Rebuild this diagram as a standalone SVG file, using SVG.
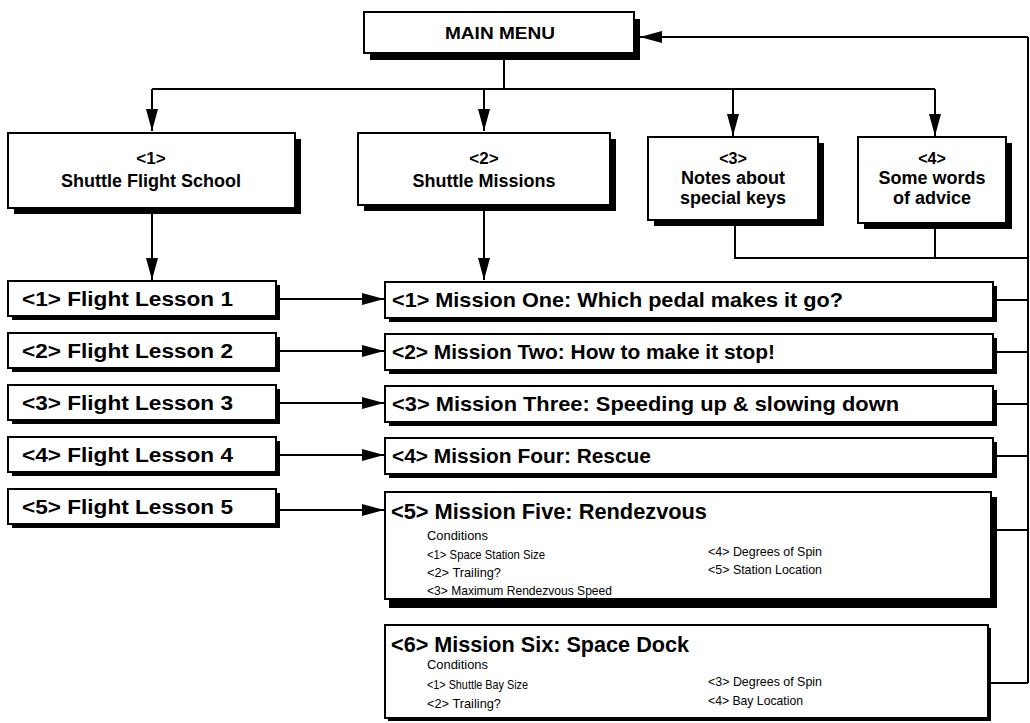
<svg xmlns="http://www.w3.org/2000/svg" width="1030" height="723" viewBox="0 0 1030 723">
<defs>
<marker id="ah" markerUnits="userSpaceOnUse" markerWidth="22" markerHeight="12" refX="22" refY="6" orient="auto">
<path d="M0,0 L22,6 L0,12 Z" fill="#000"/>
</marker>
<style>
.box{fill:#fff;stroke:#000;stroke-width:2}
.sh{fill:#000}
.ln{fill:none;stroke:#000;stroke-width:2}
.t{font-family:"Liberation Sans",Arial,sans-serif;font-weight:bold;fill:#000}
.c{font-family:"Liberation Sans Narrow","Liberation Sans",Arial,sans-serif;font-size:13.5px;fill:#000}
.mid{text-anchor:middle}
</style>
</defs>
<rect width="1030" height="723" fill="#fff"/>

<g id="connectors">
<line class="ln" x1="1028" y1="37" x2="640" y2="37" marker-end="url(#ah)"/>
<polyline class="ln" points="504,60 504,89"/>
<line class="ln" x1="152" y1="89" x2="935" y2="89"/>
<line class="ln" x1="152" y1="89" x2="152" y2="131" marker-end="url(#ah)"/>
<line class="ln" x1="484" y1="89" x2="484" y2="131" marker-end="url(#ah)"/>
<line class="ln" x1="733" y1="89" x2="733" y2="136" marker-end="url(#ah)"/>
<line class="ln" x1="935" y1="89" x2="935" y2="136" marker-end="url(#ah)"/>
<polyline class="ln" points="735,226 735,258 1028,258"/>
<line class="ln" x1="935" y1="229" x2="935" y2="258"/>
<line class="ln" x1="1028" y1="37" x2="1028" y2="683"/>
<line class="ln" x1="152" y1="214" x2="152" y2="280" marker-end="url(#ah)"/>
<line class="ln" x1="484" y1="211" x2="484" y2="280" marker-end="url(#ah)"/>
<line class="ln" x1="277" y1="299" x2="384" y2="299" marker-end="url(#ah)"/>
<line class="ln" x1="277" y1="351" x2="384" y2="351" marker-end="url(#ah)"/>
<line class="ln" x1="277" y1="403" x2="384" y2="403" marker-end="url(#ah)"/>
<line class="ln" x1="277" y1="455" x2="384" y2="455" marker-end="url(#ah)"/>
<line class="ln" x1="277" y1="510" x2="384" y2="510" marker-end="url(#ah)"/>
<line class="ln" x1="997" y1="300" x2="1028" y2="300"/>
<line class="ln" x1="997" y1="352" x2="1028" y2="352"/>
<line class="ln" x1="997" y1="404" x2="1028" y2="404"/>
<line class="ln" x1="997" y1="456" x2="1028" y2="456"/>
<line class="ln" x1="997" y1="530" x2="1028" y2="530"/>
<line class="ln" x1="991" y1="683" x2="1028" y2="683"/>
</g>

<g id="main-menu">
<rect class="sh" x="370" y="19" width="270" height="41"/>
<rect class="box" x="364" y="12" width="270" height="41"/>
<text class="t mid" x="500" y="39" font-size="17" textLength="110" lengthAdjust="spacingAndGlyphs">MAIN MENU</text>
</g>

<g id="flight-school">
<rect class="sh" x="14" y="139" width="287" height="75"/>
<rect class="box" x="8" y="133" width="287" height="75"/>
<text class="t mid" x="151" y="164" font-size="17">&lt;1&gt;</text>
<text class="t mid" x="151" y="187" font-size="18">Shuttle Flight School</text>
</g>

<g id="shuttle-missions">
<rect class="sh" x="364" y="139" width="252" height="72"/>
<rect class="box" x="358" y="133" width="252" height="72"/>
<text class="t mid" x="484" y="164" font-size="17">&lt;2&gt;</text>
<text class="t mid" x="484" y="187" font-size="18">Shuttle Missions</text>
</g>

<g id="notes-keys">
<rect class="sh" x="654" y="143" width="170" height="83"/>
<rect class="box" x="648" y="137" width="170" height="83"/>
<text class="t mid" x="733" y="164" font-size="16">&lt;3&gt;</text>
<text class="t mid" x="733" y="184" font-size="18">Notes about</text>
<text class="t mid" x="733" y="204" font-size="18">special keys</text>
</g>

<g id="words-advice">
<rect class="sh" x="864" y="143" width="148" height="86"/>
<rect class="box" x="858" y="137" width="148" height="86"/>
<text class="t mid" x="932" y="164" font-size="16">&lt;4&gt;</text>
<text class="t mid" x="932" y="184" font-size="18">Some words</text>
<text class="t mid" x="932" y="204" font-size="18">of advice</text>
</g>

<g id="lesson-1">
<rect class="sh" x="12" y="285" width="268" height="35"/>
<rect class="box" x="8" y="281" width="268" height="35"/>
<text class="t" x="22" y="306" font-size="20" textLength="211" lengthAdjust="spacingAndGlyphs">&lt;1&gt; Flight Lesson 1</text>
</g>
<g id="lesson-2">
<rect class="sh" x="12" y="337" width="268" height="35"/>
<rect class="box" x="8" y="333" width="268" height="35"/>
<text class="t" x="22" y="358" font-size="20" textLength="211" lengthAdjust="spacingAndGlyphs">&lt;2&gt; Flight Lesson 2</text>
</g>
<g id="lesson-3">
<rect class="sh" x="12" y="389" width="268" height="35"/>
<rect class="box" x="8" y="385" width="268" height="35"/>
<text class="t" x="22" y="410" font-size="20" textLength="211" lengthAdjust="spacingAndGlyphs">&lt;3&gt; Flight Lesson 3</text>
</g>
<g id="lesson-4">
<rect class="sh" x="12" y="441" width="268" height="35"/>
<rect class="box" x="8" y="437" width="268" height="35"/>
<text class="t" x="22" y="462" font-size="20" textLength="211" lengthAdjust="spacingAndGlyphs">&lt;4&gt; Flight Lesson 4</text>
</g>
<g id="lesson-5">
<rect class="sh" x="12" y="493" width="268" height="35"/>
<rect class="box" x="8" y="489" width="268" height="35"/>
<text class="t" x="22" y="514" font-size="20" textLength="211" lengthAdjust="spacingAndGlyphs">&lt;5&gt; Flight Lesson 5</text>
</g>

<g id="mission-1">
<rect class="sh" x="389" y="286" width="608" height="36"/>
<rect class="box" x="385" y="282" width="608" height="36"/>
<text class="t" x="392" y="307" font-size="21" textLength="451" lengthAdjust="spacingAndGlyphs">&lt;1&gt; Mission One: Which pedal makes it go?</text>
</g>
<g id="mission-2">
<rect class="sh" x="389" y="338" width="608" height="36"/>
<rect class="box" x="385" y="334" width="608" height="36"/>
<text class="t" x="392" y="359" font-size="21" textLength="383" lengthAdjust="spacingAndGlyphs">&lt;2&gt; Mission Two: How to make it stop!</text>
</g>
<g id="mission-3">
<rect class="sh" x="389" y="390" width="608" height="36"/>
<rect class="box" x="385" y="386" width="608" height="36"/>
<text class="t" x="392" y="411" font-size="21" textLength="507" lengthAdjust="spacingAndGlyphs">&lt;3&gt; Mission Three: Speeding up &amp; slowing down</text>
</g>
<g id="mission-4">
<rect class="sh" x="389" y="442" width="608" height="36"/>
<rect class="box" x="385" y="438" width="608" height="36"/>
<text class="t" x="392" y="463" font-size="21" textLength="259" lengthAdjust="spacingAndGlyphs">&lt;4&gt; Mission Four: Rescue</text>
</g>

<g id="mission-5">
<rect class="sh" x="389" y="497" width="608" height="111"/>
<rect class="box" x="385" y="492" width="606" height="107"/>
<text class="t" x="391" y="519" font-size="22" textLength="316" lengthAdjust="spacingAndGlyphs">&lt;5&gt; Mission Five: Rendezvous</text>
<text class="c" x="427" y="540" textLength="61" lengthAdjust="spacingAndGlyphs">Conditions</text>
<text class="c" x="427" y="559" textLength="118" lengthAdjust="spacingAndGlyphs">&lt;1&gt; Space Station Size</text>
<text class="c" x="427" y="577" textLength="74" lengthAdjust="spacingAndGlyphs">&lt;2&gt; Trailing?</text>
<text class="c" x="427" y="595" textLength="185" lengthAdjust="spacingAndGlyphs">&lt;3&gt; Maximum Rendezvous Speed</text>
<text class="c" x="708" y="556" textLength="114" lengthAdjust="spacingAndGlyphs">&lt;4&gt; Degrees of Spin</text>
<text class="c" x="708" y="574" textLength="114" lengthAdjust="spacingAndGlyphs">&lt;5&gt; Station Location</text>
</g>

<g id="mission-6">
<rect class="sh" x="388" y="628" width="603" height="93"/>
<rect class="box" x="385" y="625" width="603" height="93"/>
<text class="t" x="391" y="652" font-size="22" textLength="298" lengthAdjust="spacingAndGlyphs">&lt;6&gt; Mission Six: Space Dock</text>
<text class="c" x="427" y="669" textLength="61" lengthAdjust="spacingAndGlyphs">Conditions</text>
<text class="c" x="427" y="689" textLength="101" lengthAdjust="spacingAndGlyphs">&lt;1&gt; Shuttle Bay Size</text>
<text class="c" x="427" y="708" textLength="74" lengthAdjust="spacingAndGlyphs">&lt;2&gt; Trailing?</text>
<text class="c" x="708" y="686" textLength="114" lengthAdjust="spacingAndGlyphs">&lt;3&gt; Degrees of Spin</text>
<text class="c" x="708" y="705" textLength="95" lengthAdjust="spacingAndGlyphs">&lt;4&gt; Bay Location</text>
</g>
</svg>
